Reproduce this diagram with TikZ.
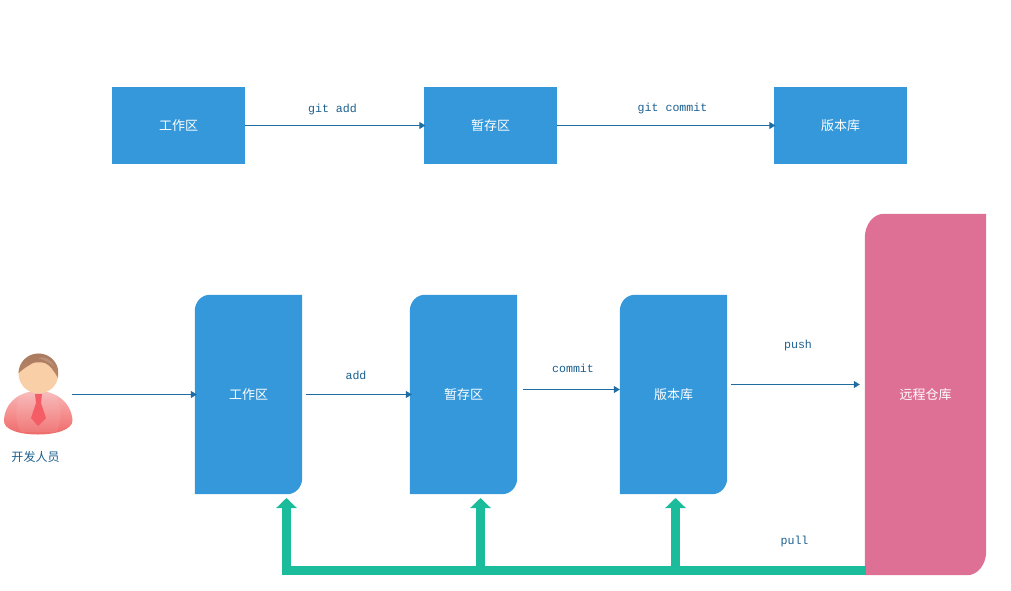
\documentclass[tikz,border=0pt]{standalone}
\usepackage{fontspec}
\newfontfamily\cjk{Noto Sans CJK SC}
\newfontfamily\lblfont{Liberation Mono}
\usetikzlibrary{arrows.meta,backgrounds,calc}
\definecolor{boxblue}{HTML}{3498DB}
\definecolor{boxpink}{HTML}{DE7096}
\definecolor{pullgreen}{HTML}{1ABC9C}
\definecolor{linkblue}{HTML}{1F6CA3}
\definecolor{labelblue}{HTML}{1A5F8F}
\definecolor{RoseTop}{HTML}{F8B8B8}
\definecolor{RoseMid}{HTML}{F59090}
\definecolor{RoseBot}{HTML}{EE6A6A}
\definecolor{TieRed}{HTML}{F45C66}
\definecolor{FaceTone}{HTML}{F9CFA8}
\definecolor{HairTop}{HTML}{A87A60}
\definecolor{HairBot}{HTML}{BD8665}
\tikzset{
  x=1pt,y=-1pt,
  plainbox/.style={fill=boxblue,text=white,font=\cjk\fontsize{13}{15}\selectfont,inner sep=0pt,minimum width=133pt,minimum height=77pt},
  softbox/.style={text=white,font=\cjk\fontsize{13}{15}\selectfont,inner sep=0pt},
  link/.style={draw=linkblue,line width=1.2pt,-{Triangle[length=6pt,width=7pt]}},
  lbl/.style={text=labelblue,font=\lblfont\fontsize{11.6}{13}\selectfont,inner sep=0pt},
  pull/.style={draw=pullgreen,line width=9pt,-{Triangle[length=10pt,width=20pt]}},
}
% name, centre, width, height, y radius, colour, text, x radius
\newcommand{\softnode}[8]{%
  \node[softbox,minimum width=#3pt,minimum height=#4pt] (#1) at (#2) {#7};
  \begin{scope}[on background layer]
    \fill[#6] (#1.south west) -- ($(#1.north west)+(0,#5)$)
      arc[start angle=180,end angle=90,x radius=#8pt,y radius=#5pt]
      -- (#1.north east) -- ($(#1.south east)+(0,-#5)$)
      arc[start angle=0,end angle=-90,x radius=#8pt,y radius=#5pt] -- cycle;
  \end{scope}
}
\begin{document}
\begin{tikzpicture}
\useasboundingbox (0,0) rectangle (1011,591);

% top row
\node[plainbox] (w1) at (178.5,125.5) {工作区};
\node[plainbox] (s1) at (490.5,125.5) {暂存区};
\node[plainbox] (r1) at (840.5,125.5) {版本库};
\draw[link] (w1) -- ([xshift=1.5pt]s1.west);
\draw[link] (s1) -- ([xshift=1.5pt]r1.west);
\node[lbl] (la) at (332.5,109) {git add};
\node[lbl] (lb) at (672.5,108) {git commit};

% bottom row
\softnode{w2}{248.5,394.5}{107}{199}{16}{boxblue}{工作区}{15}
\softnode{s2}{463.5,394.5}{107}{199}{16}{boxblue}{暂存区}{15}
\softnode{r2}{673.5,394.5}{107}{199}{16}{boxblue}{版本库}{15}
\softnode{o2}{925.5,394.5}{121}{361}{24}{boxpink}{远程仓库}{19}

% person
\begin{scope}
  \shade[top color=RoseTop,bottom color=RoseBot,middle color=RoseMid]
    (4,420) .. controls (5,402) and (20,391) .. (38,391)
    .. controls (56,391) and (71,402) .. (72.5,420)
    .. controls (73,430) and (55,434.5) .. (38,434.5)
    .. controls (20,434.5) and (3,430) .. (4,420) -- cycle;
  \fill[white,opacity=.08] (20,395) .. controls (14,410) and (16,425) .. (21,432)
    -- (56,432) .. controls (61,425) and (63,410) .. (56,395)
    .. controls (46,390) and (30,390) .. (20,395) -- cycle;
  \fill[TieRed] (35,394) -- (42,394) -- (41,403) -- (46,418) -- (38,426) -- (31,418) -- (36,403) -- cycle;
  \fill[FaceTone] (38.5,373.5) circle[radius=20];
  \begin{scope}
    \clip (38.5,373.5) circle[radius=20];
    \shade[top color=HairTop,bottom color=HairBot] (17,375) -- (17,352) -- (60,352) -- (60,380) -- (58,378)
      .. controls (54,371) and (50,365) .. (45,363)
      .. controls (41,362) and (36,362) .. (33,363)
      .. controls (28,366) and (22,369) .. (17,375) -- cycle;
    \fill[white,opacity=.15] (38,358) .. controls (44,356) and (50,358) .. (54,366)
      .. controls (50,363) and (44,360) .. (38,358) -- cycle;
  \end{scope}
\end{scope}
\coordinate (dev) at (72,394.5);
\node[text=labelblue,font=\cjk\fontsize{12}{14}\selectfont,inner sep=0pt] (devl) at (35.5,457) {开发人员};

% connectors
\draw[link] (dev) -- ([xshift=2pt]w2.west);
\draw[link] ([xshift=4pt]w2.east) -- ([xshift=2pt]s2.west);
\draw[link] ([xshift=6pt,yshift=5pt]s2.east) -- ([yshift=5pt]r2.west);
\draw[link] ([xshift=4pt,yshift=10pt]r2.east) -- ([xshift=-5pt,yshift=10pt]o2.west);
\node[lbl] (lc) at (356,375) {add};
\node[lbl] (ld) at (573,368) {commit};
\node[lbl] (le) at (798,345) {push};
\node[lbl] (lf) at (794.5,541) {pull};

% pull
\coordinate (j1) at (286.5,570.5);
\coordinate (j2) at (480.5,570.5);
\coordinate (j3) at (675.5,570.5);
\coordinate (t1) at (286.5,498);
\coordinate (t2) at (480.5,498);
\coordinate (t3) at (675.5,498);
\draw[pullgreen,line width=9pt] ([xshift=1pt]o2.west |- j1) -- ([xshift=-4.5pt]j1);
\draw[pull] (j1) -- (t1);
\draw[pull] (j2) -- (t2);
\draw[pull] (j3) -- (t3);
\end{tikzpicture}
\end{document}
